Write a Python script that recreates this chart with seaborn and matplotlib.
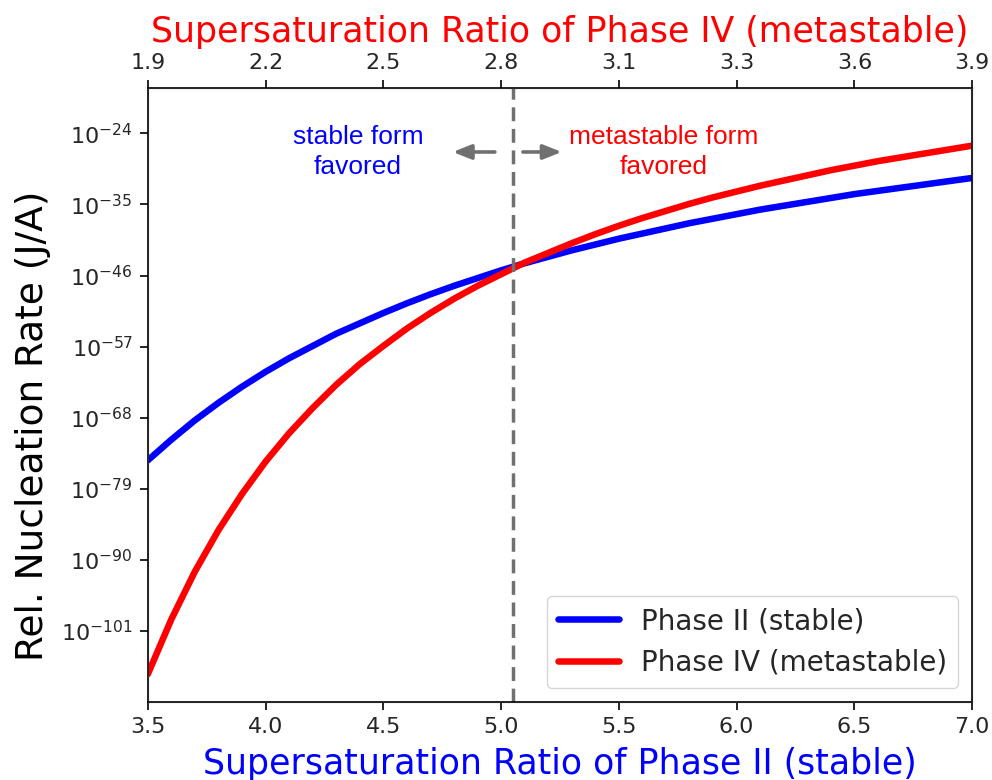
import numpy as np
import pandas as pd
import matplotlib
matplotlib.use("Agg")
import matplotlib.pyplot as plt
from matplotlib.ticker import NullLocator
import seaborn as sns

# supersaturation ratio of phase II (bottom axis)
s_phase2 = [3.5, 3.6, 3.7, 3.8, 3.9, 4.0, 4.1, 4.2, 4.3, 4.4, 4.5, 4.6,
            4.7, 4.8, 4.9, 5.0, 5.1, 5.2, 5.3, 5.4, 5.5, 5.6, 5.7, 5.8,
            5.9, 6.0, 6.1, 6.2, 6.3, 6.4, 6.5, 6.6, 6.7, 6.8, 6.9, 7.0]
# log10 of relative nucleation rate
log_rate_phase2 = [-74.6, -71.4, -68.4, -65.7, -63.2, -60.9, -58.8, -56.9, -55.0, -53.4,
                   -51.8, -50.3, -48.9, -47.6, -46.4, -45.2, -44.1, -43.1, -42.1, -41.2,
                   -40.3, -39.5, -38.7, -37.9, -37.2, -36.5, -35.8, -35.2, -34.6, -34.0,
                   -33.4, -32.9, -32.4, -31.9, -31.4, -30.9]
log_rate_phase4 = [-107.7, -99.2, -91.8, -85.4, -79.8, -74.8, -70.4, -66.5, -62.9, -59.7,
                   -56.9, -54.2, -51.8, -49.6, -47.6, -45.8, -44.0, -42.5, -41.0, -39.6,
                   -38.3, -37.1, -36.0, -34.9, -33.9, -33.0, -32.1, -31.3, -30.5, -29.7,
                   -29.0, -28.3, -27.7, -27.1, -26.5, -25.9]

bottom_ticks = [3.5, 4.0, 4.5, 5.0, 5.5, 6.0, 6.5, 7.0]
top_labels = ["1.9", "2.2", "2.5", "2.8", "3.1", "3.3", "3.6", "3.9"]
y_exponents = [-24, -35, -46, -57, -68, -79, -90, -101]
crossover = 5.05

df = pd.DataFrame({
    "S": s_phase2 * 2,
    "rate": [10.0 ** v for v in log_rate_phase2 + log_rate_phase4],
    "phase": ["Phase II (stable)"] * len(s_phase2) + ["Phase IV (metastable)"] * len(s_phase2),
})

sns.set_style("ticks")
plt.rcParams["font.family"] = ["DejaVu Sans"]

fig = plt.figure(figsize=(9.92, 7.8), dpi=100)
ax = fig.add_axes([0.149, 0.1, 0.831, 0.787])

sns.lineplot(data=df, x="S", y="rate", hue="phase",
             palette={"Phase II (stable)": "blue", "Phase IV (metastable)": "red"},
             linewidth=4.7, ax=ax, legend=False)
ax.set_yscale("log")
ax.set_xlim(3.5, 7.0)
ax.set_ylim(10.0 ** -112, 10.0 ** -17)
ax.set_yticks([10.0 ** e for e in y_exponents])
ax.set_yticklabels([r"$10^{%d}$" % e for e in y_exponents])
ax.yaxis.set_minor_locator(NullLocator())
ax.set_xticks(bottom_ticks)
ax.tick_params(axis="both", labelsize=16, length=6, width=1.2, color="black", pad=5)
for sp in ax.spines.values():
    sp.set_color("black")
    sp.set_linewidth(1.2)

ax.axvline(crossover, color="#707070", ls=(0, (4, 2.2)), lw=2.5)

ax.set_xlabel("Supersaturation Ratio of Phase II (stable)", color="blue", fontsize=25, labelpad=7)
ax.set_ylabel("Rel. Nucleation Rate (J/A)", color="black", fontsize=27)
ax.yaxis.set_label_coords(-0.117, 0.45)

ax2 = ax.twiny()
ax2.set_xlim(ax.get_xlim())
ax2.set_xticks(bottom_ticks)
ax2.set_xticklabels(top_labels)
ax2.tick_params(axis="x", labelsize=16, length=6, width=1.2, color="black", pad=5)
ax2.set_xlabel("Supersaturation Ratio of Phase IV (metastable)", color="red", fontsize=25, labelpad=8)

ax.text(0.255, 0.896, "stable form\nfavored", transform=ax.transAxes, color="blue",
        fontsize=19, ha="center", va="center", family="Liberation Sans", linespacing=1.3)
ax.text(0.626, 0.896, "metastable form\nfavored", transform=ax.transAxes, color="red",
        fontsize=19, ha="center", va="center", family="Liberation Sans", linespacing=1.3)
arrow = dict(arrowstyle="-|>,head_length=0.55,head_width=0.22", mutation_scale=20,
             color="#707070", lw=2.6, shrinkA=0, shrinkB=0)
ax.annotate("", xy=(0.370, 0.896), xytext=(0.421, 0.896), xycoords="axes fraction", arrowprops=arrow)
ax.annotate("", xy=(0.502, 0.896), xytext=(0.455, 0.896), xycoords="axes fraction", arrowprops=arrow)

handles = [plt.Line2D([], [], color="blue", lw=4.7), plt.Line2D([], [], color="red", lw=4.7)]
ax.legend(handles, ["Phase II (stable)", "Phase IV (metastable)"], loc="lower right",
          fontsize=20, frameon=True, borderaxespad=0.5, handlelength=2.2)

fig.savefig("out.png", dpi=100)
